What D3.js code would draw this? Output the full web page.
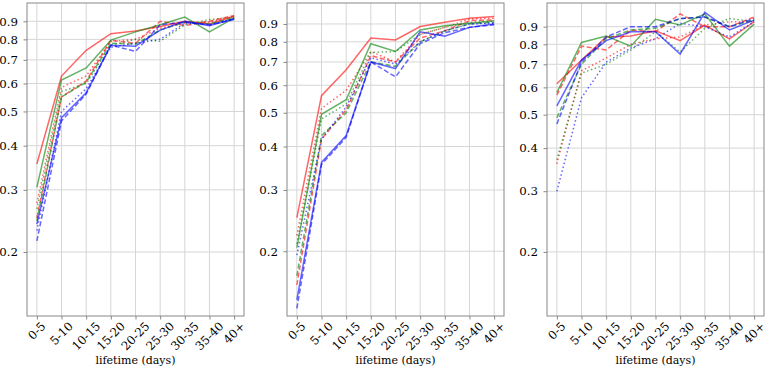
<!DOCTYPE html>
<html><head><meta charset="utf-8">
<script src="https://cdn.jsdelivr.net/npm/d3@7"></script>
<style>body{margin:0;background:#fff}svg{display:block}</style>
</head><body><svg id="c" width="772" height="371"></svg>
<script>
const categories = ["0-5","5-10","10-15","15-20","20-25","25-30","30-35","35-40","40+"];
const yTicks = [0.2,0.3,0.4,0.5,0.6,0.7,0.8,0.9];
const yTickLabels = ["0.2","0.3","0.4","0.5","0.6","0.7","0.8","0.9"];
const xLabel = "lifetime (days)";

// panel 1
const p1RedSolid    = [0.355,0.63,0.745,0.83,0.845,0.87,0.90,0.885,0.93];
const p1RedDotted   = [0.275,0.585,0.63,0.79,0.80,0.86,0.89,0.895,0.93];
const p1RedDashed   = [0.25,0.55,0.61,0.795,0.78,0.90,0.875,0.90,0.935];
const p1GreenSolid  = [0.305,0.614,0.664,0.796,0.84,0.88,0.925,0.84,0.92];
const p1GreenDotted = [0.265,0.57,0.60,0.77,0.80,0.79,0.88,0.91,0.925];
const p1GreenDashed = [0.245,0.55,0.605,0.78,0.775,0.85,0.895,0.885,0.92];
const p1BlueSolid   = [0.24,0.48,0.565,0.77,0.765,0.85,0.90,0.875,0.915];
const p1BlueDotted  = [0.23,0.50,0.58,0.76,0.78,0.80,0.89,0.88,0.915];
const p1BlueDashed  = [0.215,0.47,0.56,0.77,0.74,0.88,0.895,0.88,0.91];
// panel 2
const p2RedSolid    = [0.25,0.56,0.665,0.82,0.81,0.885,0.91,0.935,0.945];
const p2RedDotted   = [0.222,0.515,0.58,0.75,0.70,0.84,0.88,0.93,0.935];
const p2RedDashed   = [0.16,0.42,0.51,0.73,0.70,0.82,0.86,0.92,0.925];
const p2GreenSolid  = [0.205,0.495,0.545,0.79,0.75,0.865,0.89,0.905,0.92];
const p2GreenDotted = [0.21,0.48,0.53,0.745,0.75,0.84,0.88,0.91,0.915];
const p2GreenDashed = [0.17,0.43,0.50,0.70,0.68,0.80,0.86,0.90,0.91];
const p2BlueSolid   = [0.145,0.36,0.43,0.70,0.67,0.855,0.83,0.88,0.90];
const p2BlueDotted  = [0.195,0.42,0.52,0.72,0.69,0.80,0.86,0.90,0.905];
const p2BlueDashed  = [0.137,0.355,0.425,0.70,0.634,0.79,0.85,0.88,0.895];
// panel 3
const p3RedSolid    = [0.615,0.72,0.84,0.845,0.875,0.82,0.91,0.83,0.93];
const p3RedDotted   = [0.36,0.67,0.73,0.80,0.83,0.84,0.91,0.93,0.93];
const p3RedDashed   = [0.57,0.79,0.77,0.88,0.87,0.98,0.90,0.90,0.96];
const p3GreenSolid  = [0.58,0.81,0.845,0.79,0.945,0.91,0.98,0.79,0.915];
const p3GreenDotted = [0.37,0.66,0.70,0.77,0.87,0.76,0.89,0.95,0.93];
const p3GreenDashed = [0.49,0.70,0.83,0.88,0.89,0.95,0.96,0.90,0.94];
const p3BlueSolid   = [0.53,0.72,0.82,0.87,0.87,0.75,0.99,0.88,0.94];
const p3BlueDotted  = [0.30,0.56,0.71,0.78,0.83,0.92,0.90,0.84,0.93];
const p3BlueDashed  = [0.47,0.71,0.84,0.90,0.90,0.95,0.96,0.90,0.95];

const yDomain1 = [0.1318,1.014];
const yDomain2 = [0.1303,1.034];
const yDomain3 = [0.1304,1.054];

const colors = {red:"rgba(255,0,0,0.6)", green:"rgba(0,128,0,0.6)", blue:"rgba(0,0,255,0.6)"};
const dashes = {solid:null, dotted:"1.5,2.5", dashed:"5,2.5"};

function mk(r,g,b,rd,gd,bd,rs,gs,bs){
  return [
    {c:"red",s:"solid",v:r},{c:"red",s:"dotted",v:rd},{c:"red",s:"dashed",v:rs},
    {c:"green",s:"solid",v:g},{c:"green",s:"dotted",v:gd},{c:"green",s:"dashed",v:gs},
    {c:"blue",s:"solid",v:b},{c:"blue",s:"dotted",v:bd},{c:"blue",s:"dashed",v:bs}
  ];
}
const panels = [
  {left:27, dom:yDomain1, series: mk(p1RedSolid,p1GreenSolid,p1BlueSolid,p1RedDotted,p1GreenDotted,p1BlueDotted,p1RedDashed,p1GreenDashed,p1BlueDashed)},
  {left:287, dom:yDomain2, series: mk(p2RedSolid,p2GreenSolid,p2BlueSolid,p2RedDotted,p2GreenDotted,p2BlueDotted,p2RedDashed,p2GreenDashed,p2BlueDashed)},
  {left:547, dom:yDomain3, series: mk(p3RedSolid,p3GreenSolid,p3BlueSolid,p3RedDotted,p3GreenDotted,p3BlueDotted,p3RedDashed,p3GreenDashed,p3BlueDashed)}
];

const svg = d3.select("#c");
const W = 217, topY = 3, bottomY = 316;
const font = "DejaVu Serif";
const fsY = 11.8, fsX = 11.8, fsLabel = 11;

panels.forEach(p => {
  const g = svg.append("g").attr("transform", `translate(${p.left},0)`);
  const unit = W / (categories.length - 1 + 0.8);
  const x = d3.scalePoint().domain(categories).range([0.4*unit, W - 0.4*unit]).padding(0);
  const y = d3.scaleLog().domain(p.dom).range([bottomY, topY]);

  g.append("g").selectAll("line").data(categories).join("line")
    .attr("x1", d=>x(d)).attr("x2", d=>x(d)).attr("y1", topY).attr("y2", bottomY)
    .attr("stroke", "#d6d6d6").attr("stroke-width", 1);
  g.append("g").selectAll("line").data(yTicks).join("line")
    .attr("x1", 0).attr("x2", W).attr("y1", d=>y(d)).attr("y2", d=>y(d))
    .attr("stroke", "#d6d6d6").attr("stroke-width", 1);

  const line = d3.line().x((d,i)=>x(categories[i])).y(d=>y(d));
  p.series.forEach(s => {
    g.append("path").attr("d", line(s.v)).attr("fill","none")
      .attr("stroke", colors[s.c]).attr("stroke-width", 1.5)
      .attr("stroke-dasharray", dashes[s.s]);
  });

  const ya = d3.axisLeft(y).tickValues(yTicks).tickFormat((d,i)=>yTickLabels[i]).tickSize(3.5).tickPadding(5.5);
  const yg = g.append("g").call(ya);
  yg.select(".domain").remove();
  yg.selectAll("line").attr("stroke","#888");
  yg.selectAll("text").attr("font-family", font).attr("font-size", fsY).attr("fill","#000");

  const xa = d3.axisBottom(x).tickSize(3.5).tickFormat(()=> "");
  const xg = g.append("g").attr("transform", `translate(0,${bottomY})`).call(xa);
  xg.select(".domain").remove();
  xg.selectAll("line").attr("stroke","#888");

  categories.forEach(c => {
    const t = g.append("text").text(c).attr("font-family", font).attr("font-size", fsX)
      .attr("text-anchor","middle").attr("dominant-baseline","central").attr("fill","#000");
    const w = t.node().getComputedTextLength();
    const h = fsX*0.75;
    const half = (w + h) / (2*Math.SQRT2);
    t.attr("transform", `translate(${x(c)},${bottomY + 5 + half}) rotate(-45)`);
  });

  g.append("rect").attr("x",0).attr("y",topY).attr("width",W).attr("height",bottomY-topY)
    .attr("fill","none").attr("stroke","#888").attr("stroke-width",1);

  g.append("text").text(xLabel).attr("x", W/2).attr("y", 364).attr("text-anchor","middle")
    .attr("font-family", font).attr("font-size", fsLabel).attr("fill","#000");
});
</script></body></html>
